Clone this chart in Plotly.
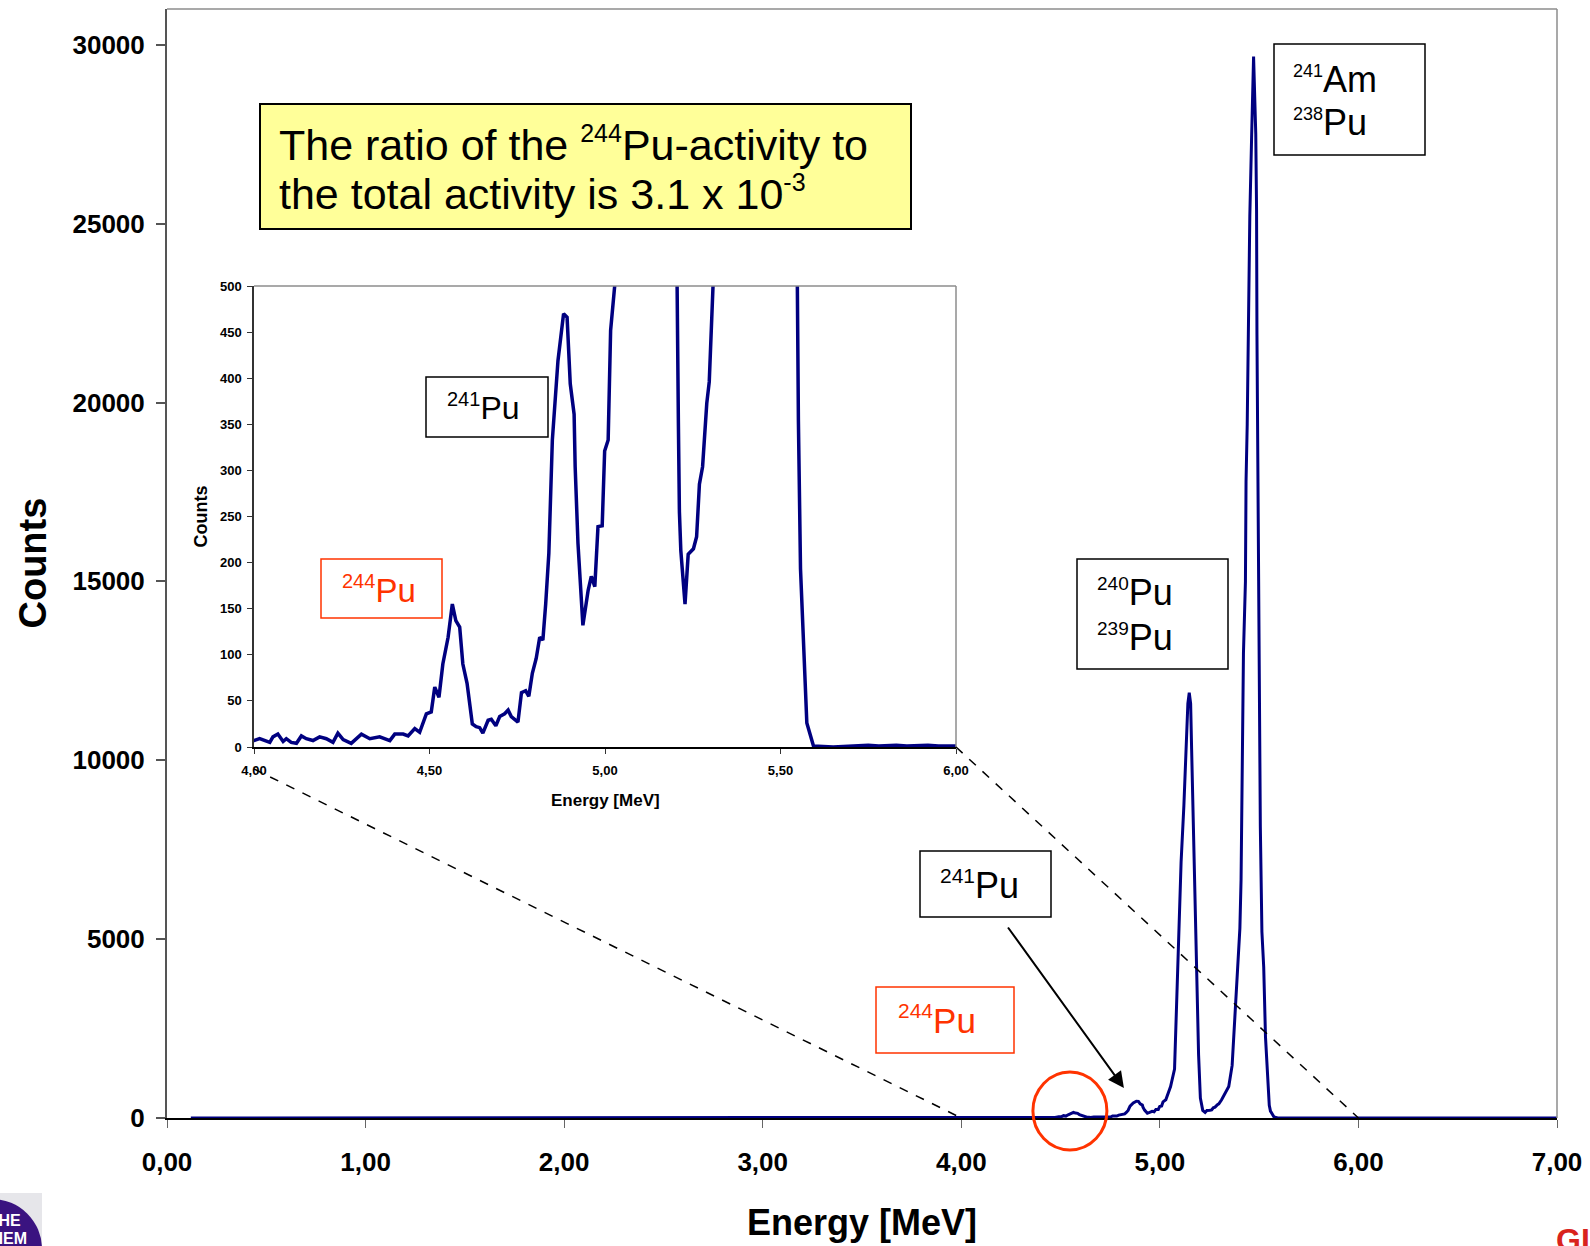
import plotly.graph_objects as go

# ---------------- data ----------------
energy_mev = [
    0.12, 4.000, 4.016, 4.045, 4.054, 4.068, 4.083, 4.092, 4.106, 4.121, 4.135,
    4.149, 4.168, 4.187, 4.206, 4.225, 4.239, 4.254, 4.277, 4.306, 4.330,
    4.358, 4.387, 4.401, 4.425, 4.439, 4.458, 4.472, 4.491, 4.505, 4.515,
    4.527, 4.538, 4.553, 4.565, 4.575, 4.586, 4.595, 4.607, 4.622, 4.633,
    4.643, 4.652, 4.667, 4.676, 4.689, 4.700, 4.714, 4.724, 4.733, 4.752,
    4.762, 4.774, 4.783, 4.793, 4.804, 4.814, 4.823, 4.831, 4.840, 4.850,
    4.866, 4.882, 4.892, 4.901, 4.912, 4.915, 4.923, 4.937, 4.952, 4.961,
    4.971, 4.980, 4.992, 4.999, 5.009, 5.016, 5.030, 5.054, 5.074, 5.084,
    5.096, 5.107, 5.121, 5.129, 5.141, 5.148, 5.155, 5.160, 5.168, 5.177,
    5.186, 5.195, 5.204, 5.209, 5.212, 5.216, 5.228, 5.237, 5.252, 5.261,
    5.269, 5.278, 5.290, 5.297, 5.311, 5.347, 5.364, 5.381, 5.393, 5.403,
    5.409, 5.414, 5.421, 5.431, 5.434, 5.440, 5.445, 5.450, 5.453, 5.462,
    5.472, 5.483, 5.487, 5.489, 5.491, 5.495, 5.497, 5.499, 5.506, 5.514,
    5.523, 5.532, 5.540, 5.548, 5.551, 5.557, 5.570, 5.575, 5.594, 5.650,
    5.750, 5.780, 5.830, 5.860, 5.920, 5.950, 6.000, 7.000,
]
counts = [
    0, 7, 9, 5, 11, 14, 6, 9, 5, 4, 12,
    9, 7, 11, 9, 5, 15, 8, 4, 14, 9,
    11, 7, 14, 14, 12, 20, 16, 36, 38, 65,
    54, 90, 119, 155, 137, 130, 90, 69, 25, 22,
    21, 15, 29, 30, 23, 33, 36, 40, 33, 27,
    59, 61, 55, 80, 96, 119, 116, 155, 210, 333,
    419, 470, 466, 394, 361, 304, 221, 132, 170, 185,
    174, 239, 240, 321, 333, 452, 510, 880, 1370, 3240,
    5200, 7160, 8730, 10100, 11580, 11890, 11580, 10300, 8150, 6670,
    4220, 1770, 560, 354, 255, 213, 155, 209, 215, 228,
    285, 304, 373, 396, 510, 880, 1470, 3040, 4420, 5300,
    6670, 9600, 13000, 15000, 17800, 19400, 22000, 23900, 25200, 27400,
    29670, 27500, 25400, 21900, 20400, 17400, 14800, 12000, 8150, 5200,
    4220, 2260, 1280, 500, 354, 193, 68, 26, 1, 0,
    2, 1, 2, 1, 2, 1, 1, 0,
]

main_x_tickvals = [0, 1, 2, 3, 4, 5, 6, 7]
main_x_ticktext = ["0,00", "1,00", "2,00", "3,00", "4,00", "5,00", "6,00", "7,00"]
main_y_tickvals = [0, 5000, 10000, 15000, 20000, 25000, 30000]
main_y_ticktext = ["0", "5000", "10000", "15000", "20000", "25000", "30000"]
inset_x_tickvals = [4.0, 4.5, 5.0, 5.5, 6.0]
inset_x_ticktext = ["4,00", "4,50", "5,00", "5,50", "6,00"]
inset_y_tickvals = [0, 50, 100, 150, 200, 250, 300, 350, 400, 450, 500]
inset_y_ticktext = ["0", "50", "100", "150", "200", "250", "300", "350", "400", "450", "500"]

# ---------------- geometry ----------------
W, H = 1590, 1246
MAIN = dict(l=167, r=1557, t=9, b=1118)
INS = dict(l=254, r=956, t=286, b=747)
MAIN_XR, MAIN_YR = [0, 7], [0, 31000]
INS_XR, INS_YR = [4, 6], [0, 500]

FONT = "Liberation Sans, Arial, sans-serif"
NAVY = "#000080"
RED = "#FF3300"


def px(x):
    return x / W


def py(y):
    return 1 - y / H


def main_px(e, c):
    x = MAIN["l"] + (e - MAIN_XR[0]) / (MAIN_XR[1] - MAIN_XR[0]) * (MAIN["r"] - MAIN["l"])
    y = MAIN["b"] - (c - MAIN_YR[0]) / (MAIN_YR[1] - MAIN_YR[0]) * (MAIN["b"] - MAIN["t"])
    return x, y


def ins_px(e, c):
    x = INS["l"] + (e - INS_XR[0]) / (INS_XR[1] - INS_XR[0]) * (INS["r"] - INS["l"])
    y = INS["b"] - (c - INS_YR[0]) / (INS_YR[1] - INS_YR[0]) * (INS["b"] - INS["t"])
    return x, y


fig = go.Figure()
fig.add_trace(go.Scatter(x=energy_mev, y=counts, mode="lines",
                         line=dict(color=NAVY, width=3), cliponaxis=False,
                         xaxis="x", yaxis="y", showlegend=False, hoverinfo="skip"))
fig.add_trace(go.Scatter(x=energy_mev, y=counts, mode="lines",
                         line=dict(color=NAVY, width=3.5),
                         xaxis="x2", yaxis="y2", showlegend=False, hoverinfo="skip"))

tick_main = dict(family=FONT, size=26, color="black", weight="bold")
tick_ins = dict(family=FONT, size=13, color="black", weight="bold")

fig.update_layout(
    width=W, height=H, margin=dict(l=0, r=0, t=0, b=0, autoexpand=False),
    paper_bgcolor="white", plot_bgcolor="white",
    xaxis=dict(domain=[px(MAIN["l"]), px(MAIN["r"])], range=MAIN_XR, anchor="y",
               tickvals=main_x_tickvals, ticktext=main_x_ticktext, tickfont=tick_main,
               ticks="outside", ticklen=8, tickwidth=1, tickcolor="#666",
               showline=True, linecolor="black", linewidth=1.5, automargin=False,
               showgrid=False, zeroline=False, ticklabelstandoff=12),
    yaxis=dict(domain=[py(MAIN["b"]), py(MAIN["t"])], range=MAIN_YR, anchor="x",
               tickvals=main_y_tickvals, ticktext=main_y_ticktext, tickfont=tick_main,
               ticks="outside", ticklen=9, tickwidth=1.5, tickcolor="#555",
               showline=True, linecolor="#555", linewidth=2, automargin=False,
               showgrid=False, zeroline=False, ticklabelstandoff=6),
    xaxis2=dict(domain=[px(INS["l"]), px(INS["r"])], range=INS_XR, anchor="y2",
                tickvals=inset_x_tickvals, ticktext=inset_x_ticktext, tickfont=tick_ins,
                ticks="outside", ticklen=5, tickwidth=1, tickcolor="#333",
                showline=True, linecolor="black", linewidth=1.5, automargin=False,
                showgrid=False, zeroline=False, ticklabelstandoff=6),
    yaxis2=dict(domain=[py(INS["b"]), py(INS["t"])], range=INS_YR, anchor="x2",
                tickvals=inset_y_tickvals, ticktext=inset_y_ticktext, tickfont=tick_ins,
                ticks="outside", ticklen=5, tickwidth=1, tickcolor="#333",
                showline=True, linecolor="#333", linewidth=1.5, automargin=False,
                showgrid=False, zeroline=False, ticklabelstandoff=3),
)

shapes = []
# frames (top and right borders in gray)
for box in (MAIN, INS):
    shapes.append(dict(type="line", xref="paper", yref="paper", x0=px(box["l"]), x1=px(box["r"]),
                       y0=py(box["t"]), y1=py(box["t"]), line=dict(color="#8c8c8c", width=1.5)))
    shapes.append(dict(type="line", xref="paper", yref="paper", x0=px(box["r"]), x1=px(box["r"]),
                       y0=py(box["t"]), y1=py(box["b"]), line=dict(color="#8c8c8c", width=1.5)))

# dashed zoom lines
lx0, ly0 = ins_px(4.0, 0)
lx1, ly1 = main_px(4.0, 0)
shapes.append(dict(type="line", xref="paper", yref="paper", x0=px(lx0), y0=py(ly0 + 22),
                   x1=px(lx1), y1=py(ly1), line=dict(color="black", width=1.5, dash="dash")))
rx0, ry0 = ins_px(6.0, 0)
rx1, ry1 = main_px(6.0, 0)
shapes.append(dict(type="line", xref="paper", yref="paper", x0=px(rx0), y0=py(ry0),
                   x1=px(rx1), y1=py(ry1), line=dict(color="black", width=1.5, dash="dash")))

# red circle around the 244Pu region
cx, cy = main_px(4.547, 196)
shapes.append(dict(type="circle", xref="paper", yref="paper", x0=px(cx - 37), x1=px(cx + 37),
                   y0=py(cy + 39), y1=py(cy - 39), line=dict(color=RED, width=3)))


def rect(x0, y0, x1, y1, color="black", fill="rgba(0,0,0,0)", width=1.5):
    shapes.append(dict(type="rect", xref="paper", yref="paper", x0=px(x0), x1=px(x1),
                       y0=py(y1), y1=py(y0), line=dict(color=color, width=width), fillcolor=fill))


rect(260, 104, 911, 229, fill="#FFFF99", width=2)      # yellow ratio box
rect(1274, 44, 1425, 155)                                # 241Am / 238Pu
rect(1077, 559, 1228, 669)                               # 240Pu / 239Pu
rect(920, 851, 1051, 917)                                # 241Pu (main)
rect(876, 987, 1014, 1053, color=RED)                   # 244Pu (main)
rect(426, 377, 548, 437)                                 # 241Pu (inset)
rect(321, 559, 442, 618, color=RED)                     # 244Pu (inset)

# logo fragments
rect(0, 1193, 42, 1250, color="#E6E6EA", fill="#E6E6EA", width=0)
shapes.append(dict(type="circle", xref="paper", yref="paper", x0=px(-58), x1=px(42),
                   y0=py(1299), y1=py(1199), line=dict(width=0), fillcolor="#3A1380"))

fig.update_layout(shapes=shapes)

ann = []


def line_text(text, x_left, baseline, size, color="black"):
    ann.append(dict(text=text, xref="paper", yref="paper", x=px(x_left),
                    y=py(baseline - 0.3465 * size), xanchor="left", yanchor="middle",
                    showarrow=False, borderpad=0, borderwidth=0,
                    font=dict(family=FONT, size=size, color=color)))


def sup(t, s):
    return f'<sup><span style="font-size:{s}px">{t}</span></sup>'


line_text("The ratio of the " + sup("244", 25) + "Pu-activity to", 279, 159, 43)
line_text("the total activity is 3.1 x 10" + sup("-3", 25), 279, 208, 43)
line_text(sup("241", 18) + "Am", 1293, 92, 36)
line_text(sup("238", 18) + "Pu", 1293, 135, 36)
line_text(sup("240", 19) + "Pu", 1097, 605, 36)
line_text(sup("239", 19) + "Pu", 1097, 650, 36)
line_text(sup("241", 21) + "Pu", 940, 897, 36)
line_text(sup("244", 21) + "Pu", 898, 1032, 35, RED)
line_text(sup("241", 20) + "Pu", 447, 418, 32)
line_text(sup("244", 20) + "Pu", 342, 601, 33, RED)

# axis titles
ann.append(dict(text="<b>Counts</b>", xref="paper", yref="paper", x=px(32), y=py((MAIN["t"] + MAIN["b"]) / 2),
                textangle=-90, showarrow=False, xanchor="center", yanchor="middle",
                font=dict(family=FONT, size=38, color="black")))
ann.append(dict(text="<b>Energy [MeV]</b>", xref="paper", yref="paper", x=px((MAIN["l"] + MAIN["r"]) / 2),
                y=py(1222.5), showarrow=False, xanchor="center", yanchor="middle",
                font=dict(family=FONT, size=36, color="black")))
ann.append(dict(text="<b>Counts</b>", xref="paper", yref="paper", x=px(201), y=py((INS["t"] + INS["b"]) / 2),
                textangle=-90, showarrow=False, xanchor="center", yanchor="middle",
                font=dict(family=FONT, size=18, color="black")))
ann.append(dict(text="<b>Energy [MeV]</b>", xref="paper", yref="paper", x=px((INS["l"] + INS["r"]) / 2),
                y=py(800), showarrow=False, xanchor="center", yanchor="middle",
                font=dict(family=FONT, size=17, color="black")))

# arrow to the 241Pu bump
ann.append(dict(text="", x=4.819, y=839, xref="x", yref="y", ax=-117, ay=-162,
                axref="pixel", ayref="pixel", showarrow=True, arrowhead=2, arrowsize=1.6,
                arrowwidth=2, arrowcolor="black", standoff=0))

# logo texts
ann.append(dict(text="<b>CHE</b>", xref="paper", yref="paper", x=px(23), y=py(1220), xanchor="right",
                yanchor="middle", showarrow=False, font=dict(family=FONT, size=16, color="white")))
ann.append(dict(text="<b>CHEM</b>", xref="paper", yref="paper", x=px(29), y=py(1238), xanchor="right",
                yanchor="middle", showarrow=False, font=dict(family=FONT, size=16, color="white")))
ann.append(dict(text="<b>GI</b>", xref="paper", yref="paper", x=px(1555), y=py(1221), xanchor="left",
                yanchor="top", showarrow=False, borderpad=0,
                font=dict(family=FONT, size=32, color="#D9231D")))

fig.update_layout(annotations=ann)

fig.write_html("out.html", config={"displayModeBar": False},
               post_script="document.body.style.margin='0';")
